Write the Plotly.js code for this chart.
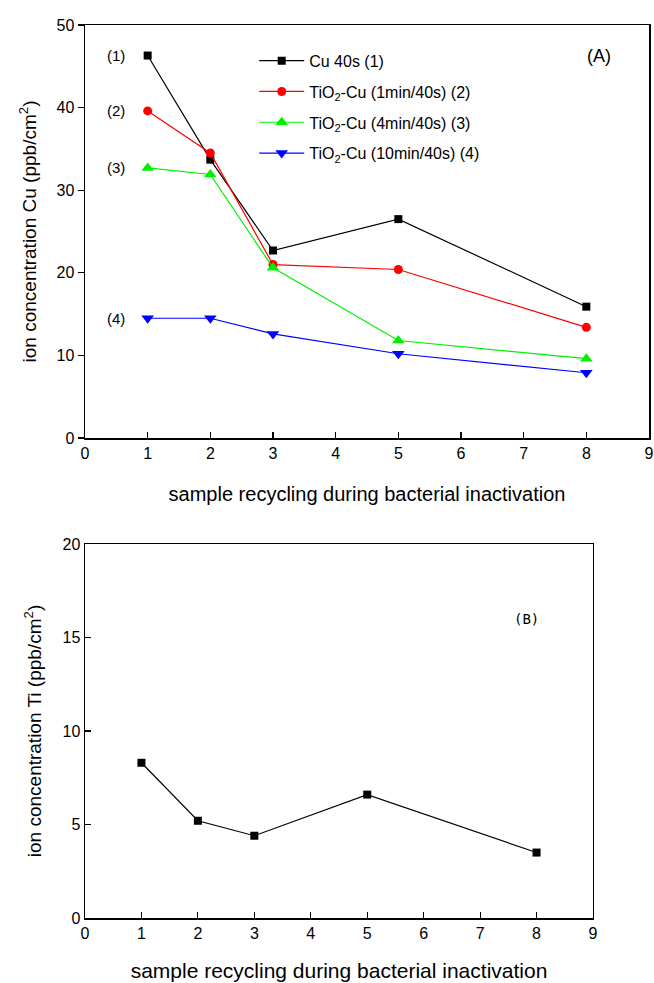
<!DOCTYPE html>
<html>
<head>
<meta charset="utf-8">
<script src="https://cdn.plot.ly/plotly-3.0.1.min.js"></script>
<style>html,body{margin:0;padding:0;background:#fff;}#chart{width:654px;height:983px;}</style>
</head>
<body>
<div id="chart"></div>
<script>
// ---- data ----
const cycles = [1, 2, 3, 5, 8];
const cu40s = [46.3, 33.7, 22.7, 26.5, 15.9];
const tiCu1min = [39.6, 34.5, 21.0, 20.4, 13.4];
const tiCu4min = [32.7, 31.9, 20.6, 11.8, 9.6];
const tiCu10min = [14.5, 14.5, 12.6, 10.2, 7.9];
const tiConc = [8.3, 5.2, 4.4, 6.6, 3.5];
const seriesNames = [
  'Cu 40s (1)',
  'TiO<sub>2</sub>-Cu (1min/40s) (2)',
  'TiO<sub>2</sub>-Cu (4min/40s) (3)',
  'TiO<sub>2</sub>-Cu (10min/40s) (4)'
];
const xTicks = [0, 1, 2, 3, 4, 5, 6, 7, 8, 9];

const FONT = 'Liberation Sans, Arial, sans-serif';

function tr(y, name, color, symbol, size, xa, ya, show, grp) {
  return {
    x: cycles, y: y, name: name, type: 'scatter', mode: 'lines+markers',
    xaxis: xa, yaxis: ya, showlegend: show, legendgroup: grp,
    line: {color: color, width: 1.2},
    marker: {color: color, symbol: symbol, size: size}
  };
}

const data = [
  tr(cu40s, seriesNames[0], '#000000', 'square', 8, 'x', 'y', true, 'g1'),
  tr(tiCu1min, seriesNames[1], '#ff0000', 'circle', 9, 'x', 'y', true, 'g2'),
  tr(tiCu4min, seriesNames[2], '#00f000', 'triangle-up', 11, 'x', 'y', true, 'g3'),
  tr(tiCu10min, seriesNames[3], '#0000ff', 'triangle-down', 11, 'x', 'y', true, 'g4'),
  tr(tiConc, 'Ti', '#000000', 'square', 8, 'x2', 'y2', false, 'g5')
];

const axBase = {
  showline: true, mirror: true, linecolor: '#000', linewidth: 1.5,
  showgrid: false, zeroline: false, ticklen: 6, tickcolor: '#000', tickwidth: 1.2,
  tickfont: {family: FONT, size: 16, color: '#000'}
};

const layout = {
  width: 654, height: 983,
  margin: {l: 85, r: 5, t: 25, b: 65},
  paper_bgcolor: '#fff', plot_bgcolor: '#fff',
  font: {family: FONT, color: '#000'},
  showlegend: true,
  legend: {
    x: 0.3, y: 0.979, xanchor: 'left', yanchor: 'top',
    bgcolor: 'rgba(0,0,0,0)', itemwidth: 45, tracegroupgap: 7,
    font: {family: FONT, size: 16, color: '#000'}
  },
  xaxis: Object.assign({}, axBase, {
    domain: [0, 1], anchor: 'y', range: [0, 9], tickvals: xTicks, ticks: 'inside',
    title: {text: 'sample recycling during bacterial inactivation', font: {family: FONT, size: 20}, standoff: 26}
  }),
  yaxis: Object.assign({}, axBase, {
    domain: [0.5375, 1], anchor: 'x', range: [0, 50], dtick: 10, ticks: 'outside',
    title: {text: 'ion concentration Cu (ppb/cm<sup>2</sup>)', font: {family: FONT, size: 19}, standoff: 15}
  }),
  xaxis2: Object.assign({}, axBase, {
    domain: [0, 0.9007], anchor: 'y2', range: [0, 9], tickvals: xTicks, ticks: 'inside',
    title: {text: 'sample recycling during bacterial inactivation', font: {family: FONT, size: 21}, standoff: 22}
  }),
  yaxis2: Object.assign({}, axBase, {
    domain: [0, 0.4188], anchor: 'x2', range: [0, 20], dtick: 5, ticks: 'inside',
    title: {text: 'ion concentration Ti (ppb/cm<sup>2</sup>)', font: {family: FONT, size: 19}, standoff: 16}
  }),
  annotations: [
    {xref: 'x', yref: 'y', x: 0.5, y: cu40s[0], text: '(1)', showarrow: false, font: {size: 15}},
    {xref: 'x', yref: 'y', x: 0.5, y: tiCu1min[0], text: '(2)', showarrow: false, font: {size: 15}},
    {xref: 'x', yref: 'y', x: 0.5, y: tiCu4min[0], text: '(3)', showarrow: false, font: {size: 15}},
    {xref: 'x', yref: 'y', x: 0.5, y: tiCu10min[0], text: '(4)', showarrow: false, font: {size: 15}},
    {xref: 'x', yref: 'y', x: 8.2, y: 46.2, text: '(A)', showarrow: false, font: {size: 18}},
    {xref: 'x2', yref: 'y2', x: 7.83, y: 16.0, text: '(B)', showarrow: false, font: {size: 14, family: 'DejaVu Sans Mono, monospace'}}
  ]
};

Plotly.newPlot('chart', data, layout, {displayModeBar: false, staticPlot: true});
</script>
</body>
</html>
